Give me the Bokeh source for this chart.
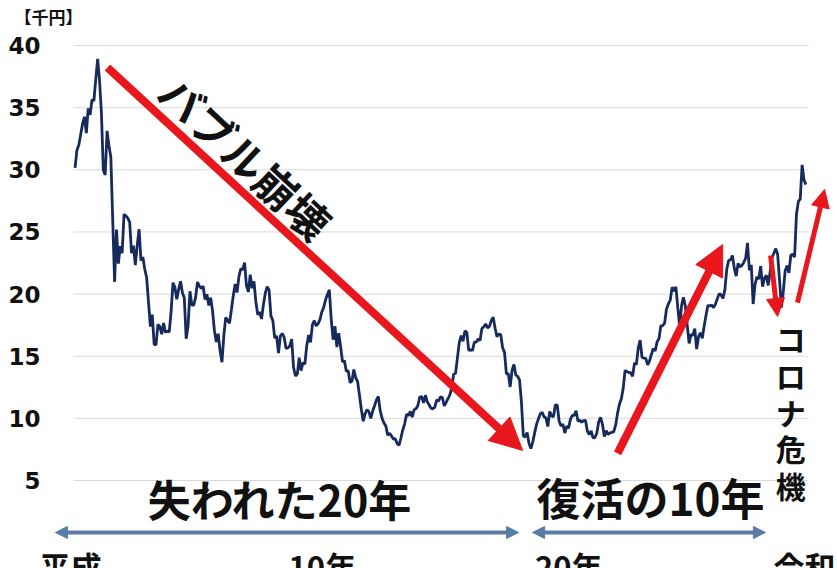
from bokeh.plotting import figure
from bokeh.models import Range1d, FixedTicker, Label, Arrow, NormalHead
from bokeh.embed import file_html
from bokeh.resources import INLINE

# Nikkei average, monthly close, thousand yen, starting Dec 1988
first_year = 1988
first_month = 12
nikkei_close = [
    30.16,
    31.58, 31.99, 32.84, 33.71, 34.27, 32.95, 34.95, 34.43, 35.64, 35.55, 37.27, 38.92,  # 1989
    37.19, 34.59, 29.98, 29.58, 33.13, 31.94, 31.04, 25.98, 20.98, 25.19, 22.45, 23.85,  # 1990
    23.29, 26.41, 26.29, 26.11, 25.79, 23.29, 23.90, 22.34, 23.92, 25.22, 22.69, 22.98,  # 1991
    22.02, 21.34, 19.35, 17.39, 18.35, 15.95, 15.91, 17.56, 17.40, 16.77, 17.68, 16.92,  # 1992
    17.02, 16.95, 18.59, 20.92, 20.55, 19.59, 20.38, 21.03, 20.11, 19.70, 16.41, 17.42,  # 1993
    20.23, 19.11, 19.11, 19.73, 20.97, 20.64, 20.45, 20.63, 19.56, 19.99, 19.08, 19.72,  # 1994
    18.65, 17.05, 16.14, 16.81, 15.44, 14.52, 16.68, 18.12, 17.91, 17.65, 18.74, 19.87,  # 1995
    20.81, 20.13, 21.41, 22.04, 21.96, 22.53, 20.69, 20.17, 21.56, 20.47, 21.02, 19.36,  # 1996
    18.33, 18.56, 18.00, 19.15, 20.07, 20.60, 20.33, 18.23, 17.89, 16.46, 16.63, 15.26,  # 1997
    16.63, 16.83, 16.53, 15.64, 15.67, 15.83, 16.38, 14.11, 13.41, 13.56, 14.88, 13.84,  # 1998
    14.50, 14.37, 15.84, 16.70, 16.11, 17.53, 17.86, 17.44, 17.61, 17.94, 18.56, 18.93,  # 1999
    19.54, 19.96, 20.34, 17.97, 16.33, 17.41, 15.73, 16.86, 15.75, 14.54, 14.65, 13.79,  # 2000
    13.84, 12.88, 12.99, 13.93, 13.26, 12.97, 11.86, 10.71, 9.77, 10.37, 10.70, 10.54,   # 2001
    9.99, 10.59, 11.02, 11.49, 11.76, 10.62, 10.00, 9.62, 9.38, 8.64, 8.81, 8.58,        # 2002
    8.34, 8.36, 7.97, 7.83, 8.42, 9.08, 9.56, 10.34, 10.22, 10.56, 10.10, 10.68,         # 2003
    10.78, 11.04, 11.72, 11.76, 11.24, 11.86, 11.33, 11.08, 10.82, 10.77, 10.90, 11.49,  # 2004
    11.39, 11.74, 11.67, 11.01, 11.28, 11.58, 11.90, 12.41, 13.57, 13.61, 14.87, 16.11,  # 2005
    16.65, 16.21, 17.06, 16.91, 15.47, 15.51, 15.46, 16.14, 16.13, 16.40, 16.27, 17.23,  # 2006
    17.38, 17.60, 17.29, 17.40, 17.88, 18.14, 17.25, 16.57, 16.79, 16.74, 15.68, 15.31,  # 2007
    13.59, 13.60, 12.53, 13.85, 14.34, 13.48, 13.38, 13.07, 11.26, 8.58, 8.51, 8.86,     # 2008
    7.99, 7.57, 8.11, 8.83, 9.52, 9.96, 10.36, 10.49, 10.13, 10.03, 9.35, 10.55,         # 2009
    10.20, 10.13, 11.09, 11.06, 9.77, 9.38, 9.54, 8.82, 9.37, 9.20, 9.94, 10.23,         # 2010
    10.24, 10.62, 9.76, 9.85, 9.69, 9.82, 9.83, 8.96, 8.70, 8.99, 8.43, 8.46,            # 2011
    8.80, 9.72, 10.08, 9.52, 8.54, 9.01, 8.70, 8.84, 8.87, 8.93, 9.45, 10.40,            # 2012
    11.14, 11.56, 12.40, 13.86, 13.77, 13.68, 13.67, 13.39, 14.46, 14.33, 15.66, 16.29,  # 2013
    14.91, 14.84, 14.83, 14.30, 14.63, 15.16, 15.62, 15.42, 16.17, 16.41, 17.46, 17.45,  # 2014
    17.67, 18.80, 19.21, 19.52, 20.56, 20.24, 20.59, 18.89, 17.39, 19.08, 19.75, 19.03,  # 2015
    17.52, 16.03, 16.76, 16.67, 17.23, 15.58, 16.57, 16.89, 16.45, 17.43, 18.31, 19.11,  # 2016
    19.04, 19.12, 18.91, 19.20, 19.65, 20.03, 19.93, 19.65, 20.36, 22.01, 22.72, 22.76,  # 2017
    23.10, 22.07, 21.45, 22.47, 22.20, 22.30, 22.55, 22.87, 24.12, 21.92, 22.35, 19.20,  # 2018
    20.77, 21.39, 21.21, 22.26, 20.60, 21.28, 21.52, 20.70, 21.76, 22.93, 23.29, 23.66,  # 2019
    23.21, 21.14, 18.92, 20.19, 21.88, 22.29, 21.71, 23.14, 23.19, 22.98, 26.43, 27.44,  # 2020
    27.66, 30.40, 29.18, 28.81,                                                          # 2021
]

y_ticks = [5, 10, 15, 20, 25, 30, 35, 40]
unit_label = "【千円】"
era_labels = ["平成", "10年", "20年", "令和"]
era_label_years = [1988.76, 1999.9, 2010.8, 2019.86]

# decimal-year positions of the monthly closes
dates = []
for i in range(len(nikkei_close)):
    m = first_month - 1 + i
    y = first_year + m // 12
    mo = m % 12 + 1
    dates.append(y + (mo - 0.5) / 12)

JP = "Noto Sans CJK JP"
RED = "#e8161d"
BLUE = "#5a7ca5"
INK = "#111111"

p = figure(width=837, height=568, output_backend="svg", toolbar_location=None,
           x_range=Range1d(1987.43, 2022.69), y_range=Range1d(-2.08, 41.21),
           x_axis_location=None, min_border_left=40, min_border_right=0,
           min_border_top=30, min_border_bottom=0)
p.outline_line_color = None
p.xgrid.visible = False
p.ygrid.visible = False
p.background_fill_color = "white"
p.border_fill_color = "white"

p.title.text = unit_label
p.title.align = "left"
p.title.offset = -26
p.title.standoff = 3
p.title.text_font = JP
p.title.text_font_style = "bold"
p.title.text_font_size = "17px"
p.title.text_color = INK

ax = p.yaxis[0]
ax.ticker = FixedTicker(ticks=y_ticks)
ax.axis_line_color = None
ax.major_tick_line_color = None
ax.major_tick_out = 0
ax.major_tick_in = 0
ax.minor_tick_line_color = None
ax.major_label_standoff = 0
ax.major_label_text_font = "DejaVu Sans"
ax.major_label_text_font_style = "bold"
ax.major_label_text_font_size = "23px"
ax.major_label_text_color = INK

# horizontal gridlines
p.segment(x0=1988.89, x1=2021.41, y0=y_ticks, y1=y_ticks,
          line_color="#d9d9d9", line_width=1)

# index line
p.line(dates, nikkei_close, line_color="#172a5c", line_width=2.8)

# red trend arrows (start year, start value, end year, end value, width, head size)
red_arrows = [
    (1990.39, 38.23, 2008.76, 7.42, 8, 32),
    (2012.96, 7.18, 2017.61, 23.99, 8, 30),
    (2019.73, 23.11, 2020.04, 18.2, 5, 18),
    (2020.92, 19.32, 2022.12, 28.42, 5, 18),
]
for xs, ys, xe, ye, lw, hs in red_arrows:
    p.add_layout(Arrow(x_start=xs, y_start=ys, x_end=xe, y_end=ye,
                       line_color=RED, line_width=lw,
                       end=NormalHead(size=hs, fill_color=RED, line_color=RED, line_width=1)))

# period arrows
for xs, xe in [(1988.09, 2008.58), (2009.2, 2019.5)]:
    p.add_layout(Arrow(x_start=xs, y_start=0.82, x_end=xe, y_end=0.82,
                       line_color=BLUE, line_width=4,
                       start=NormalHead(size=12, fill_color=BLUE, line_color=BLUE),
                       end=NormalHead(size=12, fill_color=BLUE, line_color=BLUE)))

# annotations
p.add_layout(Label(x=1996.54, y=31.07, text="バブル崩壊", text_font=JP,
                   text_font_style="bold", text_font_size="43px", angle=-43,
                   angle_units="deg", text_align="center", text_baseline="middle",
                   text_color=INK))
p.add_layout(Label(x=1998.05, y=3.56, text="失われた20年", text_font=JP,
                   text_font_style="bold", text_font_size="43px",
                   text_align="center", text_baseline="middle", text_color=INK))
p.add_layout(Label(x=2014.42, y=3.64, text="復活の10年", text_font=JP,
                   text_font_style="bold", text_font_size="44px",
                   text_align="center", text_baseline="middle", text_color=INK))
for k, ch in enumerate("コロナ危機"):
    p.add_layout(Label(x=2020.62, y=16.43 - k * 2.94, text=ch, text_font=JP,
                       text_font_style="bold", text_font_size="30px",
                       text_align="center", text_baseline="middle", text_color=INK))
for lab, yr in zip(era_labels, era_label_years):
    p.add_layout(Label(x=yr, y=0.0, text=lab, text_font=JP,
                       text_font_style="bold", text_font_size="31px",
                       text_align="left" if lab == "令和" else "center",
                       text_baseline="top", text_color=INK))

open("out.html", "w").write(file_html(p, INLINE))
